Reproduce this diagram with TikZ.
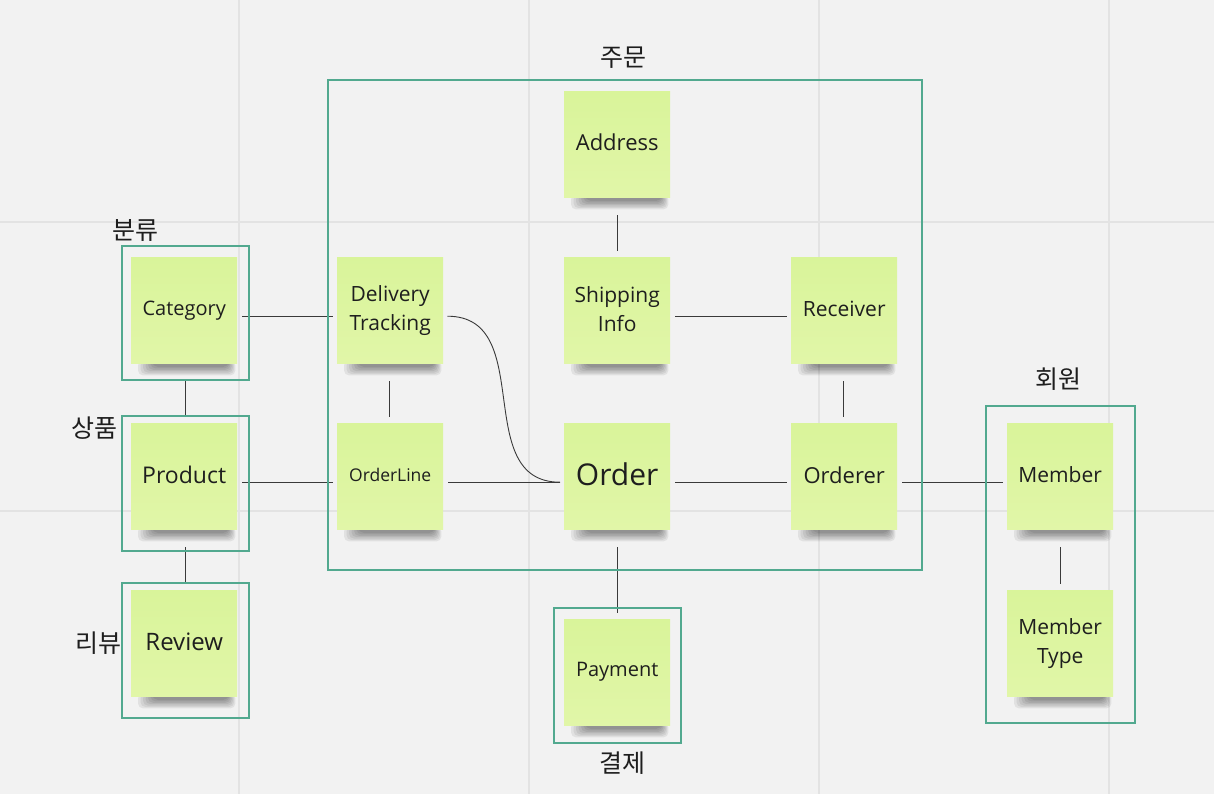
\documentclass[tikz,border=0pt]{standalone}
\usepackage{fontspec}
\setmainfont{Open Sans}
\newfontfamily\krfont{Noto Sans CJK KR}
\usetikzlibrary{backgrounds,calc}
\definecolor{bgc}{HTML}{F2F2F2}
\definecolor{gridc}{HTML}{E3E3E3}
\definecolor{grpc}{HTML}{52A98F}
\definecolor{noteA}{HTML}{D9F49A}
\definecolor{noteB}{HTML}{E1F6A8}
\definecolor{linec}{HTML}{3A3A3A}
\definecolor{txtc}{HTML}{1E1E1E}
\newcommand\up[2]{\raisebox{#1pt}{#2}}
\begin{document}
\begin{tikzpicture}[x=1pt,y=-1pt,
  note/.style={minimum width=106pt, minimum height=106pt, inner sep=0pt,
    anchor=north west, top color=noteA, bottom color=noteB, text=txtc, align=center},
  grp/.style={draw=grpc, line width=2.4pt, anchor=north west, inner sep=0pt},
  lbl/.style={font=\krfont\fontsize{25}{25}\selectfont, text=txtc},
  conn/.style={draw=linec, line width=0.9pt},
  hconn/.style={conn, shorten <=5pt, shorten >=4pt},
  vconn/.style={conn, shorten <=18pt, shorten >=6pt},
]
\useasboundingbox (0,0) rectangle (1214,794);

% notes
\node[note, font=\fontsize{22}{29}\selectfont] (addr) at (564,91) {\up{5}{Address}};
\node[note, font=\fontsize{20}{28}\selectfont] (cat) at (131,257) {Category};
\node[note, font=\fontsize{21}{29}\selectfont] (dt) at (337,257) {Delivery\\Tracking};
\node[note, font=\fontsize{21}{29}\selectfont] (ship) at (564,257) {\up{3}{Shipping}\\\up{3}{Info}};
\node[note, font=\fontsize{21}{29}\selectfont] (recv) at (791,257) {\up{3}{Receiver}};
\node[note, font=\fontsize{23}{29}\selectfont] (prod) at (131,423) {\up{3}{Product}};
\node[note, font=\fontsize{17.5}{29}\selectfont] (ol) at (337,423) {\up{3}{OrderLine}};
\node[note, font=\fontsize{30}{36}\selectfont] (ord) at (564,423) {\up{4}{Order}};
\node[note, font=\fontsize{22}{29}\selectfont] (orr) at (791,423) {\up{3}{Orderer}};
\node[note, font=\fontsize{21}{29}\selectfont] (mem) at (1007,423) {\up{3}{Member}};
\node[note, font=\fontsize{24}{29}\selectfont] (rev) at (131,590) {\up{3}{Review}};
\node[note, font=\fontsize{20}{29}\selectfont] (pay) at (564,619) {Payment};
\node[note, font=\fontsize{21}{29}\selectfont] (mt) at (1007,590) {Member\\Type};

% background, grid, shadows
\begin{pgfonlayer}{background}
\fill[bgc] (0,0) rectangle (1214,794);
\foreach \gx in {239,529,819,1109} \draw[gridc, line width=1.6pt] (\gx,0) -- (\gx,794);
\foreach \gy in {222,511} \draw[gridc, line width=1.6pt] (0,\gy) -- (1214,\gy);
\foreach \n in {addr,cat,dt,ship,recv,prod,ol,ord,orr,mem,rev,pay,mt}{
  \foreach \k [evaluate=\k as \xa using 7+2.5*\k,
               evaluate=\k as \xb using -2-1.2*\k,
               evaluate=\k as \yb using -12+1.4*\k] in {0,...,6}{
    \fill[black, opacity=0.065, rounded corners=5pt]
      ([xshift=\xa pt, yshift=3pt]\n.south west) rectangle ([xshift=\xb pt, yshift=\yb pt]\n.south east);
  }
}
\end{pgfonlayer}

% connectors
\draw[hconn] ([yshift=-6pt]cat.east) -- ([yshift=-6pt]dt.west);
\draw[hconn] ([yshift=-6pt]prod.east) -- ([yshift=-6pt]ol.west);
\draw[hconn] ([yshift=-6pt]ol.east) -- ([yshift=-6pt]ord.west);
\draw[hconn] ([yshift=-6pt]ship.east) -- ([yshift=-6pt]recv.west);
\draw[hconn] ([yshift=-6pt]ord.east) -- ([yshift=-6pt]orr.west);
\draw[hconn] ([yshift=-6pt]orr.east) -- ([yshift=-6pt]mem.west);
\draw[conn] ([xshift=4pt,yshift=-6pt]dt.east) .. controls +(90,0) and +(-90,0) .. ([xshift=-4pt,yshift=-6pt]ord.west);
\draw[vconn] ([xshift=1pt]cat.south) -- ([xshift=1pt]prod.north);
\draw[vconn] ([xshift=1pt]prod.south) -- ([xshift=1pt]rev.north);
\draw[vconn] ([xshift=-1pt]dt.south) -- ([xshift=-1pt]ol.north);
\draw[vconn] (addr.south) -- (ship.north);
\draw[vconn] ([xshift=-1pt]recv.south) -- ([xshift=-1pt]orr.north);
\draw[vconn] (ord.south) -- (pay.north);
\draw[vconn] (mem.south) -- (mt.north);

% groups
\node[grp, minimum width=127pt, minimum height=134pt] (gcat) at (121,245) {};
\node[grp, minimum width=127pt, minimum height=135pt] (gprod) at (121,415) {};
\node[grp, minimum width=127pt, minimum height=135pt] (grev) at (121,582) {};
\node[grp, minimum width=594pt, minimum height=490pt] (gord) at (327,79) {};
\node[grp, minimum width=127pt, minimum height=135pt] (gpay) at (553,607) {};
\node[grp, minimum width=149pt, minimum height=317pt] (gmem) at (985,405) {};

% labels
\node[lbl] (lord) at (623,58) {주문};
\node[lbl] (lcat) at (135,231) {분류};
\node[lbl] (lprod) at (94,428) {상품};
\node[lbl] (lrev) at (98,643) {리뷰};
\node[lbl] (lmem) at (1058,379) {회원};
\node[lbl] (lpay) at (622,763) {결제};
\end{tikzpicture}
\end{document}
